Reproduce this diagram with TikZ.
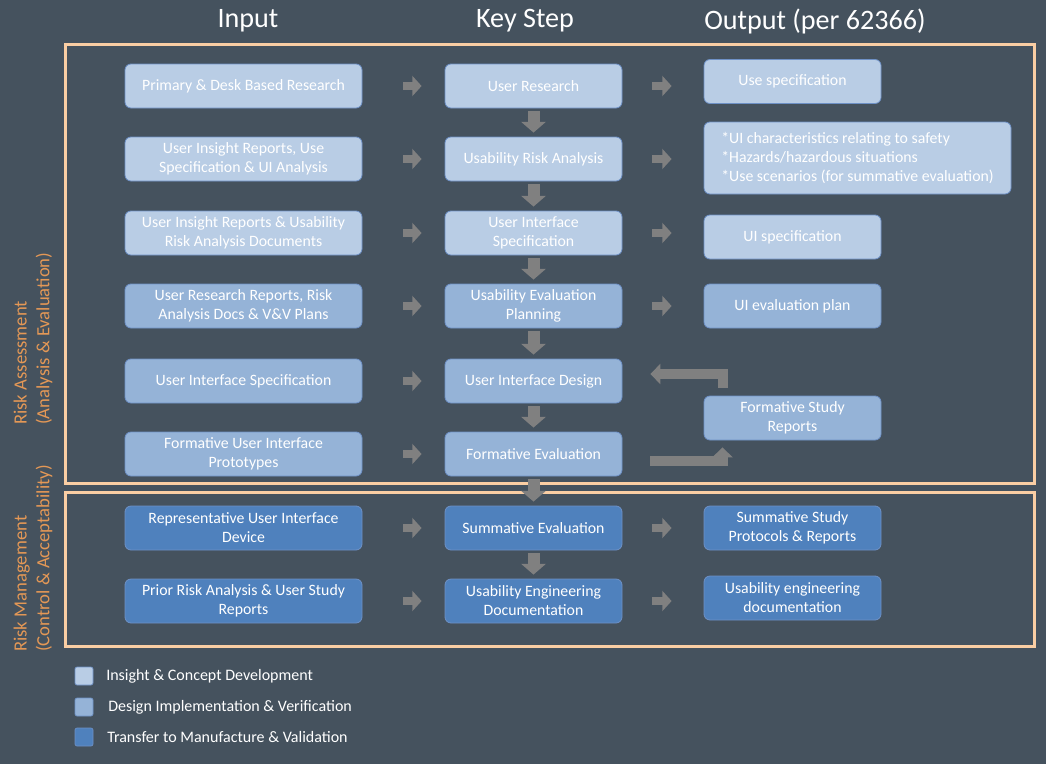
\documentclass[tikz,border=0pt]{standalone}
\usepackage{fontspec}
\setmainfont{Carlito}
\usetikzlibrary{arrows.meta}
\definecolor{slate}{RGB}{69,82,94}
\definecolor{insight}{RGB}{185,205,229}
\definecolor{design}{RGB}{149,179,215}
\definecolor{transfer}{RGB}{79,129,189}
\definecolor{boxedge}{RGB}{110,145,198}
\definecolor{peach}{RGB}{250,206,164}
\definecolor{rust}{RGB}{228,152,86}
\definecolor{arrowgray}{RGB}{128,128,128}

\begin{document}
\begin{tikzpicture}[x=0.75pt,y=-0.75pt,
  stage/.style={rounded corners=4.5pt, draw=boxedge, line width=0.6pt, text=white, align=center,
    minimum height=33pt, inner sep=2pt, font=\fontsize{11.85}{14.25}\selectfont},
  inbox/.style={stage, minimum width=177.75pt},
  keybox/.style={stage, minimum width=132.75pt},
  outbox/.style={stage, minimum width=132.75pt},
  head/.style={text=white, font=\fontsize{21.1}{24}\selectfont},
  side/.style={text=rust, rotate=90, anchor=west, align=left, inner sep=0pt, font=\fontsize{14}{17}\selectfont},
  frame/.style={draw=peach, line width=2.25pt},
  swatch/.style={rounded corners=1.5pt, draw=boxedge, line width=0.5pt, minimum size=13.5pt, inner sep=0pt},
  legtext/.style={text=white, anchor=west, inner sep=0pt, font=\fontsize{12}{14}\selectfont},
  push/.style={draw=arrowgray, line width=6pt, -{Triangle[width=15pt,length=7pt]}},
  drop/.style={draw=arrowgray, line width=9pt, -{Triangle[width=18pt,length=8pt]}, shorten <=2.25pt, shorten >=3pt},
  loop/.style={draw=arrowgray, line width=7.5pt, line join=miter, -{Triangle[width=15pt,length=7.5pt]}}]

  \fill[slate] (0,0) rectangle (1046,764);

  \node[head] (hin) at (248,21) {Input};
  \node[head] (hkey) at (525,21) {Key Step};
  \node[head] (hout) at (815,21) {Output (per 62366)};

  \draw[frame] (65,44) rectangle (1034,483);
  \draw[frame] (65,492) rectangle (1034,646);

  \node[side] (assess) at (33,425) {Risk Assessment\\(Analysis \& Evaluation)};
  \node[side] (manage) at (33,652) {Risk Management\\(Control \& Acceptability)};

  \node[inbox, fill=insight] (i1) at (243.5,86) {Primary \& Desk Based Research};
  \node[inbox, fill=insight] (i2) at (243.5,159) {User Insight Reports, Use\\Specification \& UI Analysis};
  \node[inbox, fill=insight] (i3) at (243.5,233) {User Insight Reports \& Usability\\Risk Analysis Documents};
  \node[inbox, fill=design] (i4) at (243.5,306) {User Research Reports, Risk\\Analysis Docs \& V\&V Plans};
  \node[inbox, fill=design] (i5) at (243.5,381) {User Interface Specification};
  \node[inbox, fill=design] (i6) at (243.5,454) {Formative User Interface\\Prototypes};
  \node[inbox, fill=transfer] (i7) at (243.5,528) {Representative User Interface\\Device};
  \node[inbox, fill=transfer] (i8) at (243.5,601) {Prior Risk Analysis \& User Study\\Reports};

  \node[keybox, fill=insight] (k1) at (533.5,86) {User Research};
  \node[keybox, fill=insight] (k2) at (533.5,159) {Usability Risk Analysis};
  \node[keybox, fill=insight] (k3) at (533.5,233) {User Interface\\Specification};
  \node[keybox, fill=design] (k4) at (533.5,306) {Usability Evaluation\\Planning};
  \node[keybox, fill=design] (k5) at (533.5,381) {User Interface Design};
  \node[keybox, fill=design] (k6) at (533.5,454) {Formative Evaluation};
  \node[keybox, fill=transfer] (k7) at (533.5,528) {Summative Evaluation};
  \node[keybox, fill=transfer] (k8) at (533.5,601) {Usability Engineering\\Documentation};

  \node[outbox, fill=insight] (o1) at (792.5,81.5) {Use specification};
  \node[stage, fill=insight, align=left, minimum width=230.25pt, minimum height=54pt] (o2) at (857.5,158)
    {*UI characteristics relating to safety\\*Hazards/hazardous situations\\*Use scenarios (for summative evaluation)};
  \node[outbox, fill=insight] (o3) at (792.5,237) {UI specification};
  \node[outbox, fill=design] (o4) at (792.5,306) {UI evaluation plan};
  \node[outbox, fill=design] (fsr) at (792.5,418) {Formative Study\\Reports};
  \node[outbox, fill=transfer] (o7) at (792.5,528) {Summative Study\\Protocols \& Reports};
  \node[outbox, fill=transfer] (o8) at (792.5,598) {Usability engineering\\documentation};

  \foreach \n in {1,...,8} {
    \draw[push, shorten <=30.75pt, shorten >=17.25pt] (i\n) -- (k\n);
  }
  \foreach \n in {1,2,3,4,7,8} {
    \draw[push, shorten <=22.5pt, shorten >=24pt] (k\n) -- (k\n -| o\n.west);
  }
  \foreach \a/\b in {k1/k2, k2/k3, k3/k4, k4/k5, k5/k6, k6/k7, k7/k8} {
    \draw[drop] (\a) -- (\b);
  }
  \draw[loop, shorten >=21pt] ([xshift=-52.5pt,yshift=6pt]fsr.north) |- ([yshift=5.25pt]k5.east);
  \draw[loop, shorten <=21pt, shorten >=5.25pt] ([yshift=-5.25pt]k6.east) -| ([xshift=-52.5pt]fsr.south);

  \node[swatch, fill=insight] (lg1) at (84,676) {};
  \node[swatch, fill=design] (lg2) at (84,707) {};
  \node[swatch, fill=transfer] (lg3) at (84,737) {};
  \node[legtext] (lt1) at (106,676) {Insight \& Concept Development};
  \node[legtext] (lt2) at (108,707) {Design Implementation \& Verification};
  \node[legtext] (lt3) at (107,737) {Transfer to Manufacture \& Validation};
\end{tikzpicture}
\end{document}
